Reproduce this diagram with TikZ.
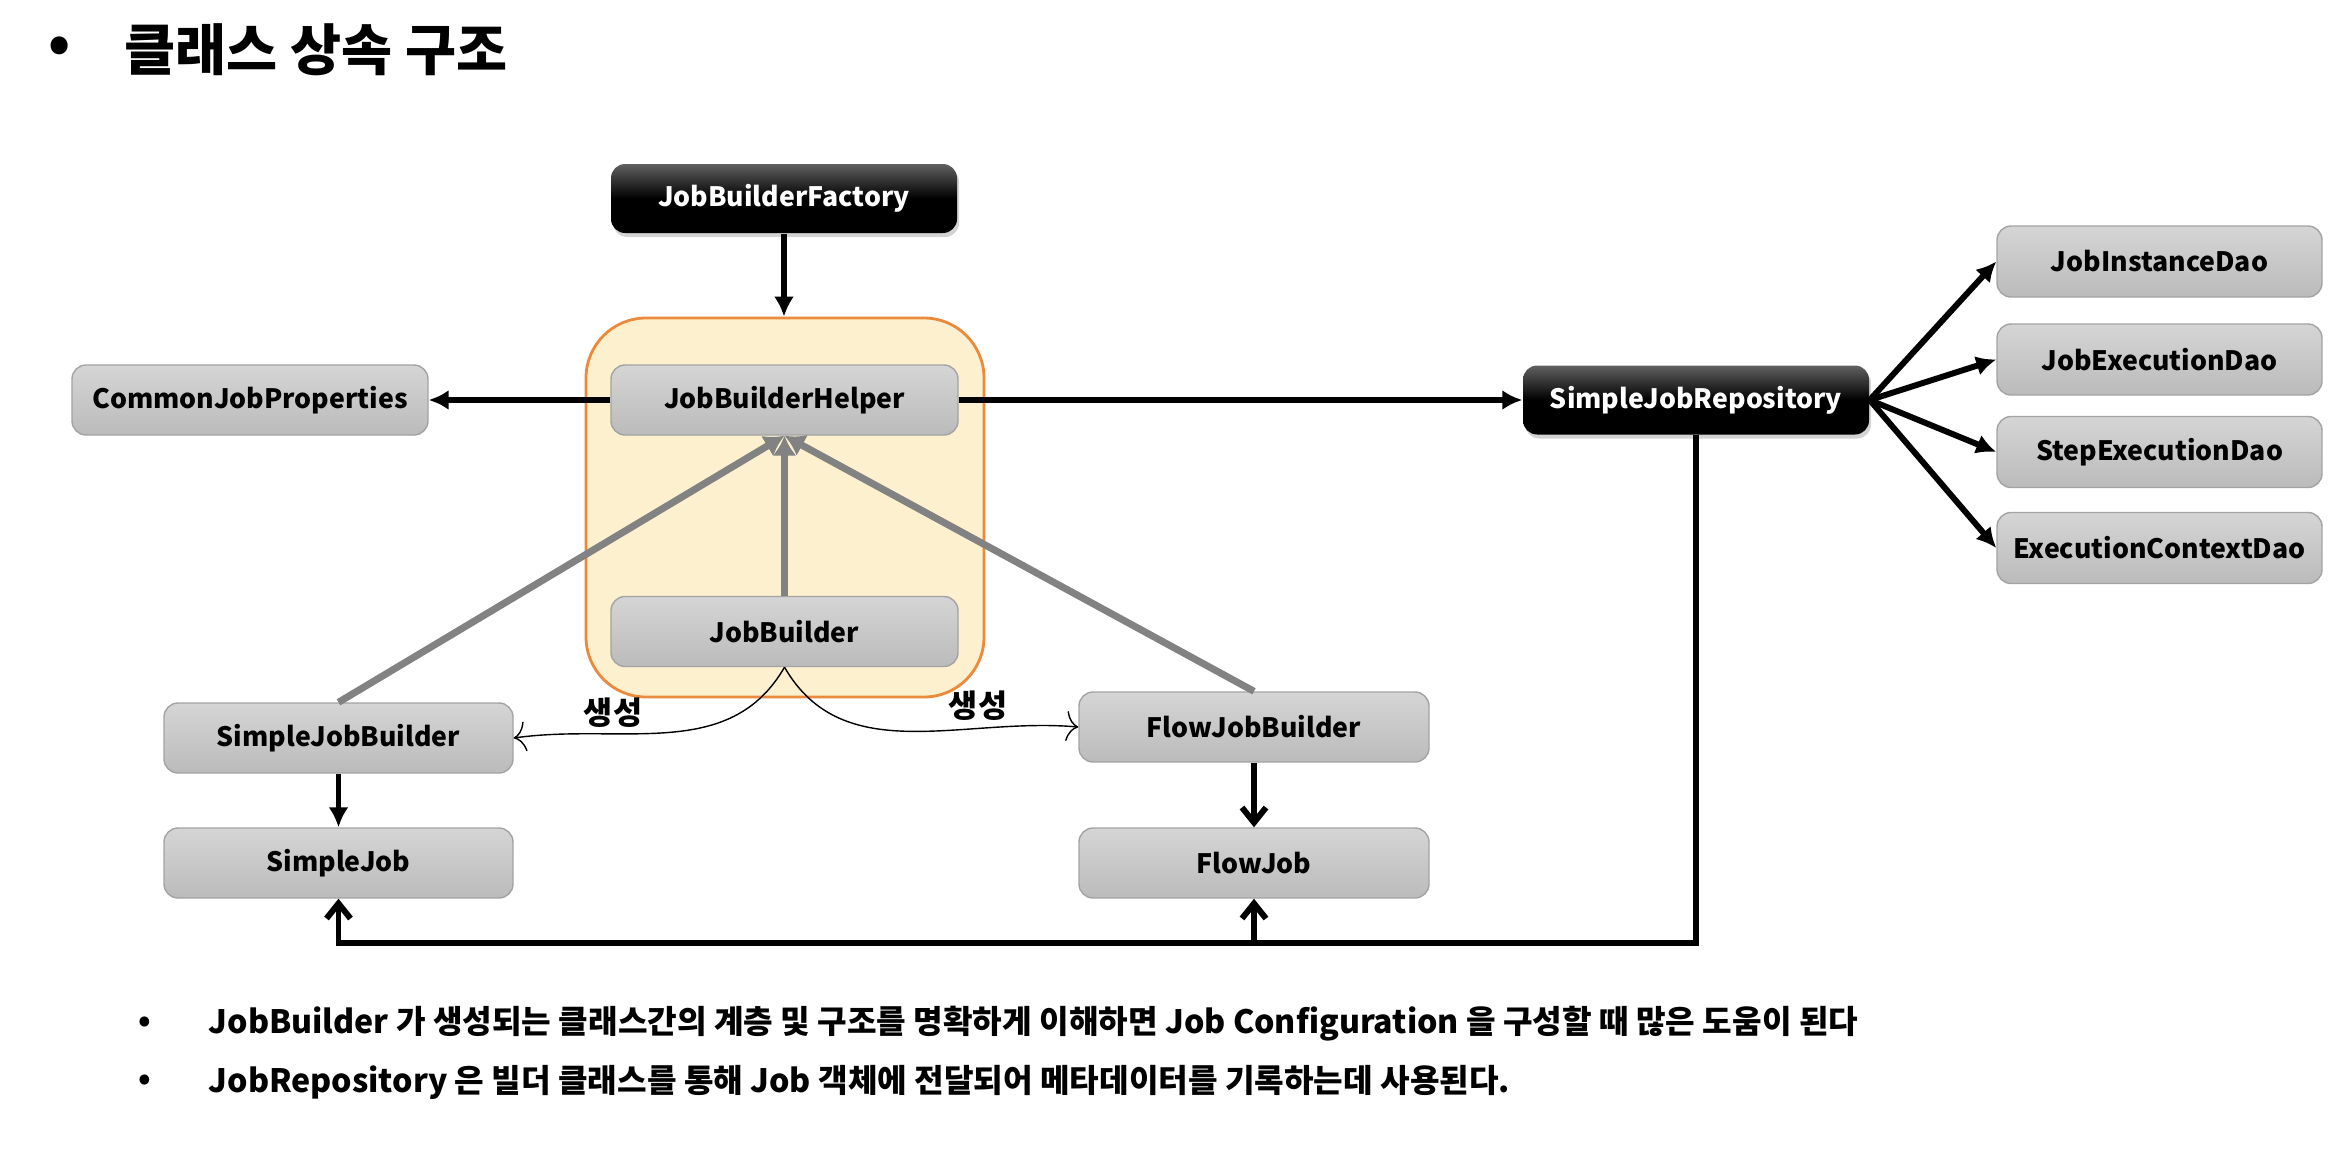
\documentclass[tikz,border=0pt]{standalone}
\usepackage{fontspec}
\setmainfont{Noto Sans CJK KR}
\usetikzlibrary{arrows.meta,shadows,positioning}

\definecolor{boxtop}{HTML}{D5D5D5}
\definecolor{boxbot}{HTML}{BBBBBB}
\definecolor{boxline}{HTML}{A3A3A3}
\definecolor{groupfill}{HTML}{FCF0CF}
\definecolor{groupline}{HTML}{EB8A3C}
\definecolor{inherit}{HTML}{828282}

\begin{document}
\begin{tikzpicture}[>=Latex,
    cls/.style={rectangle,rounded corners=4pt,draw=boxline,top color=boxtop,bottom color=boxbot,
      minimum width=3.47cm,minimum height=0.70cm,font=\fontsize{7.6}{10}\selectfont\bfseries},
    dark/.style={rectangle,rounded corners=4pt,top color=black!62,bottom color=black,middle color=black,
      text=white,minimum width=3.46cm,minimum height=0.69cm,font=\fontsize{7.6}{10}\selectfont\bfseries,
      drop shadow={opacity=0.35,shadow xshift=0.02cm,shadow yshift=-0.04cm}},
    dao/.style={cls,minimum width=3.25cm,minimum height=0.71cm},
    group/.style={rectangle,rounded corners=0.6cm,draw=groupline,fill=groupfill,line width=0.8pt},
    link/.style={-{Latex[length=0.2cm,width=0.2cm]},line width=1.7pt},
    barb/.style={-{Straight Barb[length=0.15cm,width=0.24cm]},line width=1.7pt},
    isa/.style={-{Latex[length=0.2cm,width=0.24cm]},draw=inherit,line width=2pt},
    make/.style={-{To[length=0.12cm,width=0.3cm]},line width=0.4pt},
    note/.style={anchor=west,inner sep=0pt,font=\fontsize{9.15}{11}\selectfont\bfseries}]

  \useasboundingbox (0,0) rectangle (23.44,-11.72);

  % title
  \node[font=\fontsize{15.8}{18}\selectfont\bfseries] (titledot) at (0.60,-0.50) {•};
  \node[anchor=west,inner sep=0pt,font=\fontsize{15.8}{18}\selectfont\bfseries] (title) at (1.24,-0.50) {클래스 상속 구조};

  % builder group
  \node[group,minimum width=3.98cm,minimum height=3.79cm] (builders) at (7.85,-5.075) {};
  \node[dark] (factory) at (7.84,-1.985) {JobBuilderFactory};
  \node[cls] (helper) at (7.845,-4.00) {JobBuilderHelper};
  \node[cls] (builder) at (7.845,-6.315) {JobBuilder};
  \node[cls,minimum width=3.56cm] (props) at (2.50,-4.00) {CommonJobProperties};

  % repository and daos
  \node[dark] (repo) at (16.96,-4.00) {SimpleJobRepository};
  \node[dao] (instdao) at (21.595,-2.615) {JobInstanceDao};
  \node[dao] (jobexecdao) at (21.595,-3.595) {JobExecutionDao};
  \node[dao] (stepexecdao) at (21.595,-4.52) {StepExecutionDao};
  \node[dao] (ctxdao) at (21.595,-5.48) {ExecutionContextDao};

  % concrete builders and jobs
  \node[cls,minimum width=3.49cm] (simplebuilder) at (3.385,-7.38) {SimpleJobBuilder};
  \node[cls,minimum width=3.49cm] (simplejob) at (3.385,-8.63) {SimpleJob};
  \node[cls,minimum width=3.50cm] (flowbuilder) at (12.54,-7.27) {FlowJobBuilder};
  \node[cls,minimum width=3.50cm] (flowjob) at (12.54,-8.63) {FlowJob};

  \draw[link] (factory.south) -- (factory.south |- builders.north);
  \draw[link] (helper) -- (props);
  \draw[link] (helper) -- (repo);
  \foreach \dao in {instdao,jobexecdao,stepexecdao,ctxdao}
    \draw[link] (repo.east) -- (\dao.west);

  \draw[isa] (simplebuilder.north) -- (helper.south);
  \draw[isa] (builder) -- (helper);
  \draw[isa] (flowbuilder.north) -- (helper.south);

  \draw[make] (builder.south) to[out=-120,in=8] (simplebuilder.east);
  \draw[make] (builder.south) to[out=-60,in=175] (flowbuilder.west);
  \node[font=\fontsize{9}{11}\selectfont\bfseries] (makeleft) at (6.13,-7.13) {생성};
  \node[font=\fontsize{9}{11}\selectfont\bfseries] (makeright) at (9.78,-7.06) {생성};

  \draw[link] (simplebuilder) -- (simplejob);
  \draw[barb] (flowbuilder) -- (flowjob);

  \coordinate (bus) at (3.385,-9.43);
  \draw[barb] (repo.south) |- (bus) -- (simplejob.south);
  \draw[barb] (flowjob.south |- bus) -- (flowjob.south);

  % notes
  \node[font=\fontsize{9}{11}\selectfont\bfseries] (dot1) at (1.45,-10.24) {•};
  \node[note] (note1) at (2.08,-10.24) {JobBuilder 가 생성되는 클래스간의 계층 및 구조를 명확하게 이해하면 Job Configuration 을 구성할 때 많은 도움이 된다};
  \node[font=\fontsize{9}{11}\selectfont\bfseries] (dot2) at (1.45,-10.82) {•};
  \node[note] (note2) at (2.08,-10.82) {JobRepository 은 빌더 클래스를 통해 Job 객체에 전달되어 메타데이터를 기록하는데 사용된다.};
\end{tikzpicture}
\end{document}
